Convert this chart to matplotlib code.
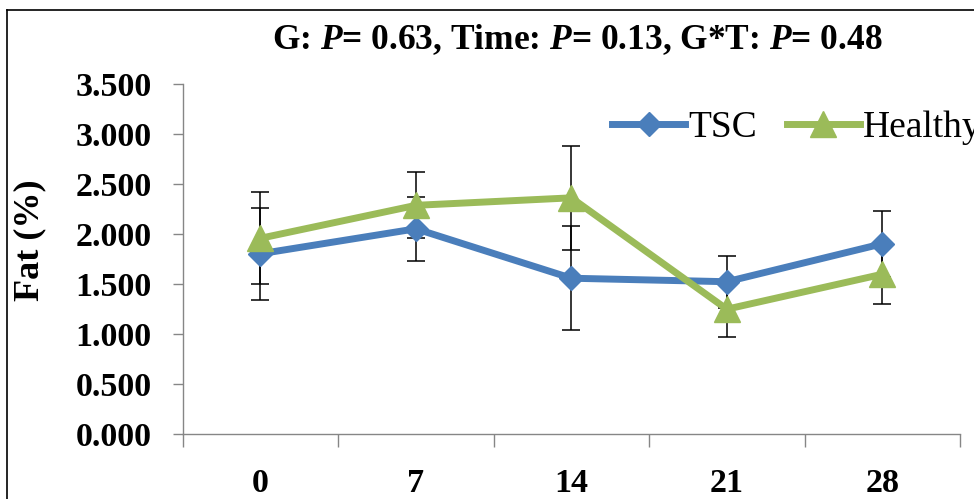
import numpy as np
import matplotlib
matplotlib.use('Agg')
import matplotlib.pyplot as plt
from matplotlib.lines import Line2D

# data
days = ['0', '7', '14', '21', '28']
tsc = [1.80, 2.05, 1.555, 1.52, 1.90]
tsc_err = [0.46, 0.32, 0.52, 0.26, 0.33]
healthy = [1.955, 2.285, 2.36, 1.245, 1.595]
healthy_err = [0.46, 0.33, 0.52, 0.28, 0.30]
y_ticks = [0.0, 0.5, 1.0, 1.5, 2.0, 2.5, 3.0, 3.5]

plt.rcParams['font.family'] = ['Liberation Serif', 'DejaVu Serif']
plt.rcParams['mathtext.fontset'] = 'custom'
plt.rcParams['mathtext.rm'] = 'Liberation Serif:bold'
plt.rcParams['mathtext.it'] = 'Liberation Serif:italic:bold'

blue = '#4A7EBB'
green = '#9BBB59'
grey = '#868686'

fig = plt.figure(figsize=(9.74, 4.99), dpi=100)
ax = fig.add_axes([182.7 / 974, 1 - 433.5 / 499, (960 - 182.7) / 974, (433.5 - 84) / 499])

x = np.arange(len(days))
ax.errorbar(x, tsc, yerr=tsc_err, fmt='none', ecolor='black',
            elinewidth=1.1, capsize=6.5, capthick=1.1, zorder=2)
ax.errorbar(x, healthy, yerr=healthy_err, fmt='none', ecolor='black',
            elinewidth=1.1, capsize=6.5, capthick=1.1, zorder=2)
ax.plot(x, tsc, color=blue, lw=5, marker='D', ms=12, zorder=3, label='TSC')
ax.plot(x, healthy, color=green, lw=5, marker='^', ms=19, zorder=4, label='Healthy')

ax.set_xlim(-0.5, len(days) - 0.5)
ax.set_ylim(0, 3.5)
ax.set_yticks(y_ticks)
ax.set_yticklabels(['%.3f' % v for v in y_ticks], fontweight='bold', fontsize=24.5)
ax.set_xticks(np.arange(-0.5, len(days), 1.0))
ax.set_xticklabels([])
ax.set_xticks(x, minor=True)
ax.set_xticklabels(days, minor=True, fontweight='bold', fontsize=24.5)
ax.tick_params(axis='y', length=7.2, width=1, color=grey, pad=15)
ax.tick_params(axis='x', which='major', length=9.5, width=1, color=grey)
ax.tick_params(axis='x', which='minor', length=0, pad=25)

for side in ['top', 'right']:
    ax.spines[side].set_visible(False)
for side in ['left', 'bottom']:
    ax.spines[side].set_color(grey)
    ax.spines[side].set_linewidth(1)

fig.text(30 / 974, 1 - 240 / 499, 'Fat (%)', rotation=90, fontsize=26,
         fontweight='bold', ha='center', va='center')

fig.text(272 / 974, 1 - 49 / 499,
         'G: $P$= 0.63, Time: $P$= 0.13, G*T: $P$= 0.48',
         fontsize=25.5, fontweight='bold', ha='left', va='baseline')

fig.legend(loc='center left', bbox_to_anchor=(612 / 974, 1 - 128 / 499),
           ncol=2, frameon=False, fontsize=27, handlelength=1.95,
           handletextpad=0.08, columnspacing=0.8, borderaxespad=0,
           borderpad=0, numpoints=1)

# outer frame of the original figure
fig.add_artist(Line2D([7 / 974, 7 / 974], [0, 1 - 10 / 499],
                      transform=fig.transFigure, color='black', lw=1.2))
fig.add_artist(Line2D([7 / 974, 1], [1 - 10 / 499, 1 - 10 / 499],
                      transform=fig.transFigure, color='black', lw=1.2))

fig.savefig('out.png', dpi=100)
